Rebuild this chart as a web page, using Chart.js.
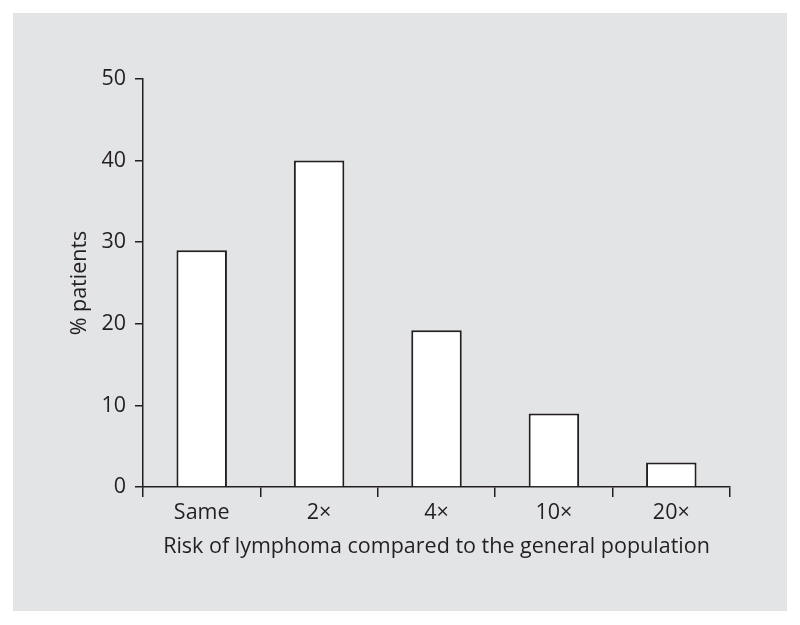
<!DOCTYPE html>
<html>
<head>
<meta charset="utf-8">
<script src="https://cdn.jsdelivr.net/npm/chart.js@4"></script>
<style>
  html, body { margin: 0; padding: 0; background: #ffffff; }
  #box { position: absolute; left: 13px; top: 13px; width: 774px; height: 598px; background: #e3e4e6; }
  canvas { display: block; }
</style>
</head>
<body>
<div id="box"><canvas id="chart" width="774" height="598"></canvas></div>
<script>
// ===== data =====
const categories = ['Same', '2\u00d7', '4\u00d7', '10\u00d7', '20\u00d7'];
const percentPatients = [29, 40, 19.2, 9, 3];
const yTicks = [0, 10, 20, 30, 40, 50];

const ink = '#231f20';
const font = 'Open Sans';
const fontSize = 21.5;

const ctx = document.getElementById('chart').getContext('2d');
new Chart(ctx, {
    type: 'bar',
    data: {
        labels: categories,
        datasets: [{
            data: percentPatients,
            backgroundColor: '#ffffff',
            borderColor: ink,
            borderWidth: 2,
            barPercentage: 0.43,
            categoryPercentage: 1.0
        }]
    },
    options: {
        responsive: false,
        animation: false,
        layout: { padding: { top: 66, right: 57, left: 54, bottom: 51 } },
        plugins: { legend: { display: false }, tooltip: { enabled: false } },
        scales: {
            x: {
                grid: { display: true, drawOnChartArea: false, offset: true, color: ink, lineWidth: 1.5, tickLength: 10 },
                border: { display: true, color: ink, width: 1.5 },
                ticks: { color: ink, font: { family: font, size: fontSize }, padding: 3 },
                title: { display: true, text: 'Risk of lymphoma compared to the general population', color: ink, font: { family: font, size: fontSize }, padding: 0 },
                afterFit: scale => { scale.height = 73; }
            },
            y: {
                min: 0,
                max: 50,
                afterBuildTicks: scale => { scale.ticks = yTicks.map(v => ({ value: v })); },
                grid: { display: true, drawOnChartArea: false, color: ink, lineWidth: 1.5, tickLength: 8 },
                border: { display: true, color: ink, width: 1.5 },
                ticks: { color: ink, font: { family: font, size: fontSize }, padding: 9 },
                title: { display: true, text: '% patients', color: ink, font: { family: font, size: fontSize }, padding: 0 },
                afterFit: scale => { scale.width = 76; }
            }
        }
    }
});
</script>
</body>
</html>
